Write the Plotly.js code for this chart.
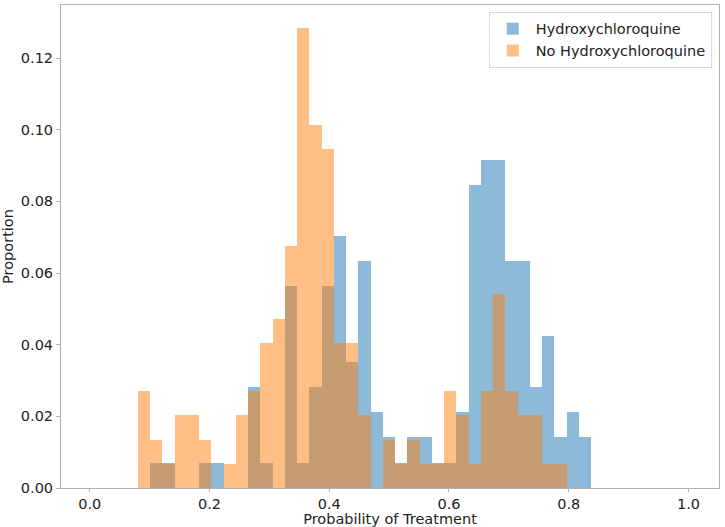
<!DOCTYPE html>
<html>
<head>
<meta charset="utf-8">
<script src="https://cdn.plot.ly/plotly-3.0.1.min.js"></script>
<style>html,body{margin:0;padding:0;background:#fff;}#chart{width:725px;height:527px;}</style>
</head>
<body>
<div id="chart"></div>
<script>
// Histogram bins (shared by both groups)
const binStart = 0.0806;
const binWidth = 0.02045;
const binCount = 37;

// Proportion per bin
const hcqProportion = [
  0, 0.0070, 0.0070, 0, 0, 0.0070, 0.0070, 0, 0, 0.0282,
  0.0070, 0, 0.0563, 0.0070, 0.0282, 0.0563, 0.0704, 0.0352, 0.0634, 0.0211,
  0.0141, 0.0070, 0.0141, 0.0141, 0.0070, 0.0070, 0.0211, 0.0845, 0.0915, 0.0915,
  0.0634, 0.0634, 0.0282, 0.0423, 0.0141, 0.0211, 0.0141
];
const noHcqProportion = [
  0.0270, 0.0135, 0.0068, 0.0203, 0.0203, 0.0135, 0, 0.0068, 0.0203, 0.0270,
  0.0405, 0.0473, 0.0676, 0.1284, 0.1014, 0.0946, 0.0405, 0.0405, 0.0203, 0,
  0.0135, 0.0068, 0.0135, 0.0068, 0.0068, 0.0270, 0.0203, 0.0068, 0.0270, 0.0541,
  0.0270, 0.0203, 0.0203, 0.0068, 0.0068, 0, 0
];
const seriesNames = ["Hydroxychloroquine", "No Hydroxychloroquine"];

const centers = [];
for (let i = 0; i < binCount; i++) centers.push(binStart + binWidth * (i + 0.5));

const font = {family: "DejaVu Sans, sans-serif", size: 14.5, color: "#222"};

const traces = [
  {type: "bar", x: centers, y: hcqProportion, width: binWidth, name: seriesNames[0],
   marker: {color: "#1f77b4", line: {width: 0}}, opacity: 0.5},
  {type: "bar", x: centers, y: noHcqProportion, width: binWidth, name: seriesNames[1],
   marker: {color: "#ff7f0e", line: {width: 0}}, opacity: 0.5}
];

const layout = {
  width: 725, height: 527,
  margin: {l: 61, r: 6, t: 5, b: 39},
  paper_bgcolor: "#fff", plot_bgcolor: "#fff",
  barmode: "overlay", bargap: 0,
  font: font,
  showlegend: true,
  legend: {x: 0.989, y: 0.986, xanchor: "right", yanchor: "top",
    bgcolor: "rgba(255,255,255,0.8)", bordercolor: "#d9d9d9", borderwidth: 1,
    font: font, tracegroupgap: 0, itemwidth: 36},
  xaxis: {
    range: [-0.048, 1.051], tickvals: [0, 0.2, 0.4, 0.6, 0.8, 1.0],
    ticktext: ["0.0", "0.2", "0.4", "0.6", "0.8", "1.0"],
    showgrid: false, zeroline: false, showline: true, mirror: true,
    linecolor: "#b0b0b0", linewidth: 1, ticks: "outside", ticklen: 3, tickcolor: "#b0b0b0",
    tickfont: font, title: {text: "Probability of Treatment", font: font, standoff: 1}
  },
  yaxis: {
    range: [0, 0.1348], tickvals: [0, 0.02, 0.04, 0.06, 0.08, 0.10, 0.12],
    ticktext: ["0.00", "0.02", "0.04", "0.06", "0.08", "0.10", "0.12"],
    showgrid: false, zeroline: false, showline: true, mirror: true,
    linecolor: "#b0b0b0", linewidth: 1, ticks: "outside", ticklen: 4, tickcolor: "#b0b0b0",
    tickfont: font, title: {text: "Proportion", font: font, standoff: 4}
  }
};

Plotly.newPlot("chart", traces, layout, {displayModeBar: false, staticPlot: true});
</script>
</body>
</html>
